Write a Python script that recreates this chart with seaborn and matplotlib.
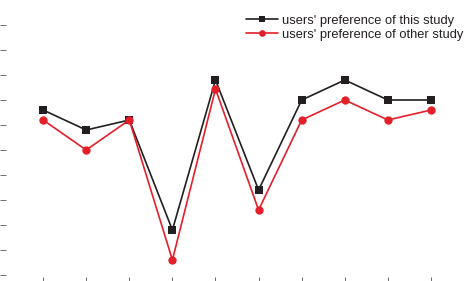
import matplotlib
matplotlib.use("Agg")
import matplotlib.pyplot as plt
import seaborn as sns
import pandas as pd

# Data
items = [1, 2, 3, 4, 5, 6, 7, 8, 9, 10]
this_study = [1.90, 1.70, 1.80, 0.70, 2.20, 1.10, 2.00, 2.20, 2.00, 2.00]
other_study = [1.80, 1.50, 1.80, 0.40, 2.11, 0.90, 1.80, 2.00, 1.80, 1.90]
label_this = "users' preference of this study"
label_other = "users' preference of other study"
yticks = [0.25 * k for k in range(1, 12)]

sns.set_theme(style="white")
plt.rcParams['font.family'] = ['Liberation Sans', 'DejaVu Sans']

W, H = 474, 281
fig = plt.figure(figsize=(W / 100, H / 100), dpi=100)
# axes extends slightly beyond the figure (reference is cropped)
left_px, right_px = 0, 474
bot_px, top_px = 283, -6  # top-origin pixel coordinates
ax = fig.add_axes([left_px / W, (H - bot_px) / H, (right_px - left_px) / W, (bot_px - top_px) / H])

df = pd.DataFrame({
    "item": items * 2,
    "value": this_study + other_study,
    "series": [label_this] * len(items) + [label_other] * len(items),
})

sns.lineplot(data=df[df.series == label_this], x="item", y="value", ax=ax,
             color="#231f20", marker="s", markersize=5.5, markeredgewidth=0,
             linewidth=1.2, label=label_this)
sns.lineplot(data=df[df.series == label_other], x="item", y="value", ax=ax,
             color="#e3202a", marker="o", markersize=6, markeredgewidth=0,
             linewidth=1.2, label=label_other)

# pixel mapping: y_px = 300 - 100*v ; x_px = 43.1*i
ax.set_ylim((300 - bot_px) / 100, (300 - top_px) / 100)
ax.set_xlim(left_px / 43.1, right_px / 43.1)
ax.set_xticks(items)
ax.set_yticks(yticks)
ax.set_xticklabels([])
ax.set_yticklabels([])
ax.set_xlabel("")
ax.set_ylabel("")
for s in ax.spines.values():
    s.set_visible(False)
ax.tick_params(axis="both", direction="in", length=4.5, width=0.6, color="#555555",
               left=True, bottom=True, top=False, right=False)

leg = ax.legend(loc="upper right", bbox_to_anchor=(463 / W, (H - 14.5) / H),
                bbox_transform=fig.transFigure, frameon=False, fontsize=9.3,
                handlelength=2.5, handletextpad=0.25, labelspacing=0.15,
                borderaxespad=0, borderpad=0, markerscale=0.8)
for t in leg.get_texts():
    t.set_color("#231f20")

fig.savefig("out.png", dpi=100)
